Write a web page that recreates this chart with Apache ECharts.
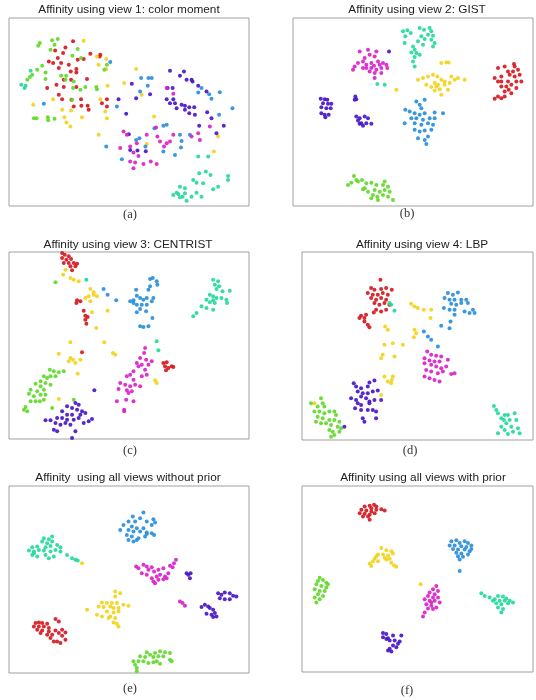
<!DOCTYPE html>
<html><head><meta charset="utf-8">
<script src="https://cdn.jsdelivr.net/npm/echarts@6/dist/echarts.min.js"></script>
<style>html,body{margin:0;padding:0;background:#fff}#c{width:536px;height:700px}</style>
</head><body><div id="c"></div>
<script>
// ---- data: embedded coordinates per view and cluster ----
const panelTitles = ["Affinity using view 1: color moment","Affinity using view 2: GIST","Affinity using view 3: CENTRIST","Affinity using view 4: LBP","Affinity  using all views without prior","Affinity using all views with prior"];
const panelCaptions = ["(a)","(b)","(c)","(d)","(e)","(f)"];
const clusterNames = ["red","yellow","green","spring","azure","violet","magenta"];

// view 1
const a_red = [[218,125],[195,143],[164,152],[188,160],[172,175],[158,190],[145,185],[182,190],[175,205],[205,195],[232,180],[250,178],[270,162],[298,170],[228,208],[228,218],[211,215],[190,240],[212,240],[168,255],[190,262],[228,262],[260,238],[140,265],[175,285],[185,298],[213,300],[242,298],[262,318],[243,318],[220,320],[265,330],[305,310],[320,298],[320,320],[300,165]];
const a_yellow = [[250,123],[290,170],[318,178],[295,195],[318,208],[408,208],[372,250],[425,285],[322,258],[300,298],[212,332],[185,330],[192,352],[245,352],[198,368],[210,380],[98,315],[320,355],[315,335],[295,405],[462,350],[655,410],[642,455],[440,432],[158,298]];
const a_green = [[118,130],[113,138],[155,122],[172,118],[162,135],[150,150],[232,148],[216,168],[242,175],[125,198],[110,210],[95,225],[88,232],[80,240],[135,218],[135,238],[182,228],[197,228],[220,245],[255,262],[290,268],[215,300],[195,240],[240,270],[100,355],[108,355],[142,352],[143,361],[162,357],[218,265],[320,195],[312,210],[288,262]];
const a_spring = [[62,255],[75,258],[72,265],[90,213],[595,470],[625,470],[598,520],[618,515],[632,525],[580,540],[590,548],[610,550],[640,568],[655,560],[685,528],[685,540],[540,560],[555,565],[520,585],[535,582],[548,590],[555,580],[540,592],[560,602],[575,590],[605,590],[590,578],[530,578]];
const a_azure = [[330,187],[423,235],[445,235],[455,235],[443,258],[420,275],[130,312],[350,320],[628,283],[635,297],[660,277],[595,278],[605,265],[698,325],[500,375],[490,378],[463,385],[418,415],[408,420],[318,440],[540,405],[570,405],[545,423],[543,443],[436,440],[490,455],[365,478],[525,465],[658,345]];
const a_violet = [[510,213],[552,215],[540,228],[560,240],[575,240],[578,245],[395,252],[503,265],[518,265],[595,258],[620,275],[408,295],[450,283],[355,298],[500,298],[520,298],[525,310],[545,315],[555,318],[568,322],[583,322],[378,342],[510,310],[530,325],[555,330],[568,340],[622,337],[585,345],[635,355],[672,378],[650,400],[598,378],[386,403],[437,454],[390,450],[412,452]];
const a_magenta = [[500,265],[520,282],[370,395],[380,405],[468,383],[472,410],[480,425],[410,430],[390,440],[400,458],[360,444],[415,468],[390,485],[405,488],[430,492],[452,485],[470,492],[492,440],[500,430],[510,425],[520,405],[440,405],[600,420],[575,410],[630,380],[595,400],[400,505]];

// view 2
const b_red = [[690,205],[710,200],[738,193],[720,215],[735,215],[750,210],[755,225],[740,230],[725,225],[700,230],[680,235],[690,245],[700,245],[720,245],[745,245],[760,245],[700,260],[715,260],[730,255],[745,265],[710,275],[730,280],[690,290],[680,297],[700,295],[710,290],[722,270],[740,200]];
const b_yellow = [[520,190],[535,188],[542,188],[450,240],[465,235],[480,230],[495,225],[508,230],[520,240],[530,245],[550,230],[560,240],[570,235],[590,240],[500,250],[510,255],[530,255],[545,250],[475,255],[490,262],[500,272],[515,268],[540,270],[520,285],[505,260],[385,270]];
const b_green = [[258,528],[265,540],[250,548],[240,555],[270,545],[282,540],[295,550],[310,548],[325,555],[350,545],[345,555],[360,560],[290,565],[300,575],[320,570],[335,575],[350,570],[365,575],[315,585],[328,590],[345,585],[360,590],[375,600],[310,595],[330,600],[285,568]];
const b_spring = [[405,95],[418,92],[412,110],[428,100],[455,85],[468,90],[485,85],[490,95],[480,105],[495,108],[460,110],[470,118],[490,120],[500,130],[495,140],[465,135],[410,130],[435,140],[440,150],[430,158],[445,160],[440,172],[455,165],[435,185],[440,200],[450,125],[328,253],[350,255]];
const b_azure = [[445,305],[470,300],[455,315],[460,325],[412,330],[425,335],[440,340],[455,345],[470,340],[500,338],[525,340],[430,355],[445,355],[465,360],[485,355],[500,355],[410,370],[440,370],[460,375],[480,370],[495,375],[440,390],[455,395],[470,392],[490,390],[480,410],[470,420],[450,415],[475,432]];
const b_violet = [[363,155],[158,297],[170,298],[178,300],[165,310],[180,312],[190,312],[160,322],[175,325],[188,325],[160,340],[170,345],[182,345],[172,352],[262,290],[265,298],[260,300],[265,350],[275,355],[290,350],[300,355],[270,362],[280,370],[295,370],[310,372],[285,378],[275,372]];
const b_magenta = [[275,155],[300,150],[325,155],[305,165],[320,170],[290,175],[285,185],[270,190],[295,195],[310,190],[330,185],[345,190],[355,195],[358,205],[340,205],[325,210],[310,205],[295,205],[285,205],[260,200],[255,210],[320,220],[340,220],[320,235],[305,215],[335,195],[318,198]];

// view 3
const c_red = [[185,70],[193,75],[205,80],[185,85],[198,90],[212,88],[190,100],[205,100],[220,100],[230,102],[210,110],[225,110],[215,122],[230,212],[240,215],[228,220],[250,243],[255,258],[262,262],[255,270],[258,282],[490,400],[500,398],[495,410],[505,415],[515,410],[520,412],[498,422],[245,368]];
const c_yellow = [[195,120],[188,135],[210,145],[220,150],[235,155],[270,178],[280,188],[265,200],[280,195],[290,200],[255,205],[270,215],[275,248],[322,243],[288,295],[210,338],[175,372],[210,385],[218,390],[205,395],[225,400],[240,390],[312,338],[338,370],[345,375],[232,432],[465,452],[470,460],[175,508]];
const c_green = [[165,158],[148,420],[160,425],[175,428],[190,425],[130,440],[140,445],[150,440],[165,440],[120,455],[135,460],[150,465],[105,462],[120,470],[90,480],[110,485],[130,480],[85,492],[100,500],[120,495],[135,495],[90,515],[105,515],[118,515],[130,510],[75,532],[70,540],[80,545],[220,510],[155,535]];
const c_spring = [[258,150],[640,150],[655,155],[645,165],[658,170],[650,178],[668,185],[690,183],[630,195],[640,200],[650,205],[620,210],[640,212],[665,205],[680,210],[630,218],[645,220],[605,230],[620,235],[640,240],[590,250],[580,260],[682,220],[470,335],[475,362]];
const c_azure = [[310,178],[322,195],[348,212],[408,180],[450,148],[458,145],[470,155],[472,165],[450,170],[445,180],[410,198],[420,205],[430,210],[440,205],[460,205],[390,215],[400,220],[410,225],[425,225],[440,225],[455,215],[420,238],[410,248],[438,245],[457,265],[420,290],[430,292],[445,290],[400,212]];
const c_violet = [[282,482],[225,520],[235,525],[200,530],[215,535],[230,540],[245,545],[185,545],[200,555],[215,555],[240,555],[255,550],[170,565],[185,565],[200,570],[220,570],[235,565],[150,572],[135,572],[165,580],[180,585],[195,580],[210,585],[250,580],[265,575],[275,568],[160,600],[170,605],[225,605],[215,625],[218,630]];
const c_magenta = [[435,355],[432,370],[420,385],[438,390],[410,400],[425,405],[445,405],[455,395],[415,410],[435,420],[400,425],[390,435],[380,440],[400,450],[425,440],[440,435],[360,460],[375,465],[390,470],[405,465],[420,470],[355,478],[380,482],[395,485],[385,490],[350,515],[378,510],[400,515],[372,540],[372,545]];

// view 4
const d_red = [[338,150],[310,175],[320,180],[340,178],[355,175],[372,180],[300,190],[315,195],[330,195],[345,190],[360,195],[310,205],[325,210],[340,205],[355,210],[320,220],[335,225],[350,220],[365,225],[325,240],[340,245],[355,240],[295,255],[280,258],[290,265],[275,265],[290,275],[300,285],[305,292],[318,248]];
const d_yellow = [[430,222],[440,230],[450,235],[468,240],[490,240],[488,265],[352,290],[360,300],[440,300],[445,310],[438,322],[350,345],[375,340],[405,345],[345,375],[380,380],[340,385],[350,440],[375,440],[372,450],[370,460],[340,495],[140,520],[360,455]];
const d_green = [[160,505],[165,520],[150,530],[170,530],[140,545],[155,545],[170,550],[185,545],[200,545],[205,555],[150,560],[165,565],[185,570],[200,570],[215,575],[160,580],[175,580],[190,585],[210,590],[220,595],[185,600],[195,605],[215,605],[200,615],[190,620],[145,575],[130,520]];
const d_spring = [[365,220],[370,225],[380,243],[678,528],[685,540],[690,550],[710,555],[720,555],[740,550],[700,565],[725,570],[745,570],[715,580],[700,590],[730,590],[750,595],[710,600],[690,610],[735,605],[755,610],[720,612],[708,570]];
const d_azure = [[540,190],[555,195],[570,188],[530,205],[545,210],[560,210],[580,210],[595,210],[550,222],[565,225],[580,220],[600,220],[615,240],[528,235],[545,240],[560,240],[590,245],[605,250],[620,250],[560,255],[548,275],[520,288],[545,295],[468,305],[480,320],[490,330],[510,350]];
const d_violet = [[258,460],[265,470],[280,475],[305,458],[320,452],[300,470],[270,485],[285,490],[300,490],[315,485],[330,482],[250,505],[265,510],[280,500],[295,505],[305,515],[320,510],[340,510],[270,520],[280,525],[305,520],[262,535],[280,540],[300,540],[325,545],[285,565],[290,575],[325,565],[230,590],[315,540]];
const d_magenta = [[478,365],[490,375],[505,378],[520,380],[470,385],[485,392],[500,395],[515,395],[540,390],[470,400],[490,405],[505,410],[520,415],[535,410],[475,420],[490,425],[510,430],[525,425],[550,432],[560,430],[470,440],[485,445],[500,450],[515,455]];

// all views without prior
const e_red = [[165,478],[175,485],[105,490],[115,488],[125,490],[140,492],[100,500],[115,500],[130,500],[145,505],[110,510],[125,512],[145,515],[165,512],[185,510],[195,518],[120,520],[140,525],[155,525],[175,520],[185,528],[195,540],[170,545],[160,545],[180,550],[150,535]];
const e_yellow = [[245,310],[345,395],[360,400],[345,410],[305,428],[320,430],[335,430],[350,430],[370,435],[385,438],[295,440],[310,442],[330,440],[340,445],[355,445],[260,450],[320,455],[340,458],[355,455],[290,465],[305,470],[330,470],[345,475],[340,488],[355,500],[350,492],[325,475]];
const e_green = [[440,578],[450,585],[465,580],[480,575],[495,578],[510,580],[420,590],[435,592],[460,592],[475,590],[490,590],[510,600],[515,605],[400,605],[415,605],[430,605],[445,610],[460,608],[470,605],[480,612],[405,615],[410,625],[410,635]];
const e_spring = [[130,235],[145,238],[155,230],[125,245],[140,250],[155,245],[95,262],[110,260],[135,262],[150,258],[170,255],[180,262],[85,272],[100,275],[115,270],[130,272],[150,275],[165,270],[180,275],[95,285],[110,290],[135,285],[160,290],[200,285],[215,295],[225,300],[232,302],[100,280],[145,295]];
const e_azure = [[430,158],[398,170],[420,175],[385,185],[405,185],[440,185],[460,178],[465,188],[370,195],[395,200],[410,205],[430,205],[455,195],[360,210],[385,210],[400,215],[420,215],[440,218],[455,220],[462,225],[380,225],[395,230],[415,235],[435,230],[385,240],[400,245],[410,240],[440,222]];
const e_violet = [[560,340],[565,345],[570,355],[572,340],[655,400],[665,405],[675,398],[690,400],[700,408],[710,410],[660,415],[675,418],[690,418],[615,435],[625,440],[605,442],[630,445],[640,450],[620,462],[635,465],[645,460],[650,470],[640,472]];
const e_magenta = [[408,320],[415,325],[430,315],[440,320],[455,322],[445,330],[462,335],[475,330],[490,325],[510,318],[522,310],[528,300],[518,322],[425,340],[440,345],[455,355],[470,350],[480,345],[495,350],[505,340],[460,365],[475,360],[490,358],[465,370],[500,355],[540,425],[548,430],[555,438]];

// all views with prior
const f_red = [[290,140],[305,138],[318,135],[325,140],[340,148],[350,152],[280,150],[295,152],[310,155],[325,150],[275,160],[290,162],[305,165],[320,160],[285,170],[300,170],[305,180],[310,145]];
const f_yellow = [[340,265],[355,272],[370,275],[375,282],[330,285],[345,285],[360,288],[325,290],[320,298],[350,295],[365,298],[315,305],[330,305],[305,312],[310,320],[370,310],[378,318],[385,322],[355,300],[458,375]];
const f_green = [[155,355],[150,365],[165,362],[175,370],[145,375],[160,380],[175,385],[140,390],[155,395],[170,395],[150,405],[165,410],[140,415],[155,420],[145,430],[180,375]];
const f_spring = [[640,402],[650,410],[665,415],[690,410],[705,412],[715,418],[680,420],[695,425],[710,425],[725,425],[685,432],[700,435],[720,432],[735,430],[690,445],[705,450],[700,460],[675,425]];
const f_azure = [[550,245],[565,242],[575,250],[590,245],[600,250],[545,258],[560,258],[580,260],[595,262],[610,258],[555,268],[570,270],[590,270],[605,275],[565,280],[580,282],[600,285],[570,290],[585,292],[575,300],[575,335],[610,268]];
const f_violet = [[345,522],[355,525],[345,535],[360,538],[375,530],[400,530],[365,545],[380,545],[395,548],[390,555],[375,560],[365,570],[360,575],[385,565],[370,578],[355,540]];
const f_magenta = [[505,380],[495,390],[510,395],[485,400],[500,405],[480,410],[495,415],[510,415],[470,420],[485,425],[500,425],[515,430],[475,435],[490,440],[505,445],[480,448],[495,450],[470,460],[465,472],[490,430]];

// ---- layout / style ----
const clusterColors = {red:'#d6191f',yellow:'#f2d21c',green:'#63d92c',spring:'#26d99b',azure:'#2b8fdb',violet:'#4a17c6',magenta:'#d923c9'};
const panelData = [
  {red:a_red,yellow:a_yellow,green:a_green,spring:a_spring,azure:a_azure,violet:a_violet,magenta:a_magenta},
  {red:b_red,yellow:b_yellow,green:b_green,spring:b_spring,azure:b_azure,violet:b_violet,magenta:b_magenta},
  {red:c_red,yellow:c_yellow,green:c_green,spring:c_spring,azure:c_azure,violet:c_violet,magenta:c_magenta},
  {red:d_red,yellow:d_yellow,green:d_green,spring:d_spring,azure:d_azure,violet:d_violet,magenta:d_magenta},
  {red:e_red,yellow:e_yellow,green:e_green,spring:e_spring,azure:e_azure,violet:e_violet,magenta:e_magenta},
  {red:f_red,yellow:f_yellow,green:f_green,spring:f_spring,azure:f_azure,violet:f_violet,magenta:f_magenta}
];
const layout = [
  {left:9,top:18,width:240,height:188,xr:[25,748],yr:[55,618],tx:129,ty:10,cx:130,cy:215},
  {left:293,top:18,width:240,height:188,xr:[75,795],yr:[55,618],tx:417,ty:10,cx:407,cy:214},
  {left:9,top:252,width:240,height:187,xr:[25,748],yr:[67,628],tx:128,ty:245,cx:130,cy:451},
  {left:302,top:252,width:231,height:188,xr:[103,795],yr:[67,630],tx:422,ty:245,cx:410,cy:451},
  {left:9,top:486,width:240,height:187,xr:[25,748],yr:[78,640],tx:128,ty:478,cx:130,cy:689},
  {left:302,top:486,width:231,height:186,xr:[102,795],yr:[78,640],tx:423,ty:478,cx:407,cy:691}
];

const grid=[],xAxis=[],yAxis=[],series=[],graphic=[];
layout.forEach((L,i)=>{
  grid.push({left:L.left,top:L.top,width:L.width,height:L.height,show:true,borderColor:'#a0a0a0',borderWidth:1,backgroundColor:'#fff'});
  xAxis.push({gridIndex:i,type:'value',min:L.xr[0],max:L.xr[1],show:false});
  yAxis.push({gridIndex:i,type:'value',min:L.yr[0],max:L.yr[1],inverse:true,show:false});
  clusterNames.forEach(n=>{
    series.push({type:'scatter',name:n,xAxisIndex:i,yAxisIndex:i,data:panelData[i][n],symbol:'circle',symbolSize:4,
      itemStyle:{color:clusterColors[n],opacity:0.92},silent:true,animation:false});
  });
  graphic.push({type:'text',x:L.tx,y:L.ty,style:{text:panelTitles[i],align:'center',verticalAlign:'middle',textAlign:'center',textVerticalAlign:'middle',fontSize:11.8,fontFamily:'Liberation Sans, Arial, sans-serif',fill:'#222'}});
  graphic.push({type:'text',x:L.cx,y:L.cy,style:{text:panelCaptions[i],align:'center',verticalAlign:'middle',textAlign:'center',textVerticalAlign:'middle',fontSize:12.5,fontFamily:'Liberation Serif, Times New Roman, serif',fill:'#333'}});
});

const chart = echarts.init(document.getElementById('c'),null,{renderer:'canvas'});
chart.setOption({animation:false,backgroundColor:'#fff',grid,xAxis,yAxis,series,graphic});
</script></body></html>
